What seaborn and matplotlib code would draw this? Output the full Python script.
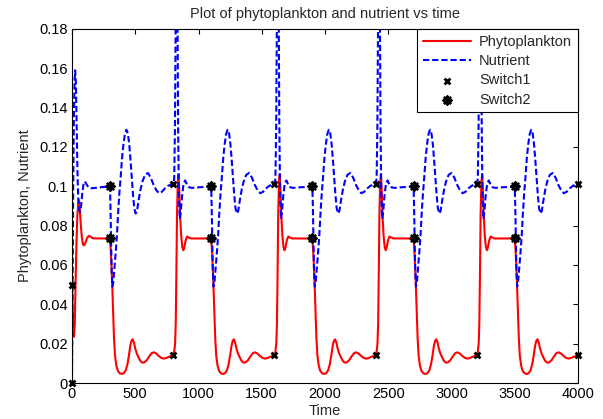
# phytoplankton / nutrient switching plot
import numpy as np
import pandas as pd
import matplotlib
matplotlib.use('Agg')
import matplotlib.pyplot as plt
import seaborn as sns

# first cycle, phase before switch2 (offsets from t=0)
t_first = [0, 4, 9, 16, 22, 28, 35, 42, 50, 56, 62, 70, 78, 86, 95, 105, 118, 132, 145, 165, 200, 250]
phyto_first = [0.050, 0.040, 0.028, 0.0235, 0.030, 0.050, 0.070, 0.085, 0.092, 0.093, 0.088, 0.080,
               0.074, 0.0705, 0.0700, 0.0712, 0.0735, 0.0748, 0.0745, 0.0736, 0.0735, 0.0735]
t_first_n = [0, 4, 9, 15, 20, 25, 31, 37, 44, 50, 57, 64, 72, 82, 92, 102, 115, 130, 150, 200, 250]
nutr_first = [0.0, 0.045, 0.095, 0.135, 0.153, 0.159, 0.152, 0.130, 0.105, 0.093, 0.088, 0.087,
              0.090, 0.097, 0.1015, 0.1025, 0.1010, 0.0995, 0.0990, 0.0993, 0.0997]

# later cycles, phase after switch1 (offsets from 800*k)
t_rise = [0, 8, 15, 20, 25, 30, 36, 42, 48, 55, 63, 72, 80, 88, 98, 110, 122, 140, 200, 250]
phyto_rise = [0.0142, 0.0160, 0.0200, 0.030, 0.055, 0.085, 0.102, 0.106, 0.098, 0.085, 0.075,
              0.069, 0.0675, 0.069, 0.0725, 0.0745, 0.0740, 0.0735, 0.0735, 0.0735]
t_rise_n = [0, 8, 14, 20, 27, 33, 39, 45, 52, 60, 70, 82, 95, 108, 125, 150, 200, 250]
nutr_rise = [0.101, 0.104, 0.130, 0.190, 0.240, 0.200, 0.130, 0.095, 0.0835, 0.087, 0.095,
             0.1015, 0.1030, 0.1010, 0.0995, 0.0992, 0.0995, 0.0997]

# phase after switch2 (offsets from 800*k, same every cycle)
t_fall = [300, 306, 312, 318, 325, 332, 340, 350, 362, 378, 395, 410, 425, 438, 450, 461, 471,
          480, 490, 500, 512, 525, 540, 555, 570, 590, 610, 630, 648, 665, 685, 705, 725, 745, 765, 785]
phyto_fall = [0.0735, 0.068, 0.060, 0.050, 0.036, 0.023, 0.014, 0.0090, 0.0062, 0.0049, 0.0046,
              0.0050, 0.0065, 0.0095, 0.0140, 0.0190, 0.0215, 0.0222, 0.0205, 0.0175, 0.0150,
              0.0132, 0.0113, 0.0104, 0.0104, 0.0115, 0.0135, 0.0152, 0.0156, 0.0150, 0.0138,
              0.0128, 0.0124, 0.0127, 0.0133, 0.0138]
t_fall_n = [300, 304, 308, 313, 319, 326, 335, 345, 355, 365, 375, 385, 395, 406, 418, 430, 442,
            453, 463, 472, 482, 492, 503, 514, 527, 542, 557, 577, 600, 622, 645, 667, 688, 710,
            735, 760, 780]
nutr_fall = [0.100, 0.090, 0.075, 0.058, 0.049, 0.051, 0.058, 0.066, 0.075, 0.087, 0.097, 0.105,
             0.114, 0.121, 0.1265, 0.1288, 0.1268, 0.121, 0.113, 0.105, 0.096, 0.089, 0.0862,
             0.0875, 0.093, 0.0985, 0.1025, 0.1058, 0.1068, 0.1045, 0.1007, 0.0980, 0.0965,
             0.0972, 0.0990, 0.1003, 0.1008]

# switch markers
switch1_t = [0, 800, 1600, 2400, 3200, 4000]
switch1_phyto = [0.050, 0.0142, 0.0142, 0.0142, 0.0142, 0.0142]
switch1_nutr = [0.0, 0.101, 0.101, 0.101, 0.101, 0.101]
switch2_t = [300, 1100, 1900, 2700, 3500]
switch2_phyto = [0.0735, 0.0735, 0.0735, 0.0735, 0.0735]
switch2_nutr = [0.100, 0.100, 0.100, 0.100, 0.100]

tp, pp, tn, nn = [], [], [], []
for k in range(5):
    s = 800 * k
    if k == 0:
        tp += [s + t for t in t_first]; pp += phyto_first
        tn += [s + t for t in t_first_n]; nn += nutr_first
    else:
        tp += [s + t for t in t_rise]; pp += phyto_rise
        tn += [s + t for t in t_rise_n]; nn += nutr_rise
    tp += [s + t for t in t_fall]; pp += phyto_fall
    tn += [s + t for t in t_fall_n]; nn += nutr_fall
tp.append(4000); pp.append(phyto_rise[0])
tn.append(4000); nn.append(nutr_rise[0])

df_p = pd.DataFrame({'Time': tp, 'val': pp})
df_n = pd.DataFrame({'Time': tn, 'val': nn})
df_s1 = pd.DataFrame({'Time': switch1_t + switch1_t, 'val': switch1_phyto + switch1_nutr})
df_s2 = pd.DataFrame({'Time': switch2_t + switch2_t, 'val': switch2_phyto + switch2_nutr})

sns.set_style('white')
plt.rcParams['font.family'] = ['Liberation Sans', 'DejaVu Sans']
fs = 10.5
plt.rcParams['font.size'] = fs

fig = plt.figure(figsize=(6.03, 4.19), dpi=100)
ax = fig.add_axes([72 / 603, 1 - 383 / 419, 506 / 603, 354 / 419])

sns.lineplot(data=df_p, x='Time', y='val', color='red', lw=1.5, estimator=None, sort=False,
             ax=ax, label='Phytoplankton')
sns.lineplot(data=df_n, x='Time', y='val', color='blue', lw=1.5, linestyle=(0, (3, 1.4)),
             estimator=None, sort=False, ax=ax, label='Nutrient')
sns.scatterplot(data=df_s1, x='Time', y='val', color='black', marker='x', s=18, linewidth=2,
                ax=ax, label='Switch1', zorder=5, clip_on=False)
sns.scatterplot(data=df_s2, x='Time', y='val', color='black', marker=(8, 2, 0), s=30,
                linewidth=1.9, ax=ax, label='Switch2', zorder=5, clip_on=False)

ax.set_xlim(0, 4000)
ax.set_ylim(0, 0.18)
ax.set_xticks(np.arange(0, 4001, 500))
ax.set_yticks(np.arange(0, 0.181, 0.02))
ax.set_yticklabels(['%g' % round(v, 2) for v in np.arange(0, 0.181, 0.02)])
ax.tick_params(direction='in', top=True, right=True, length=3.5, width=0.8, labelsize=fs,
               colors='black', pad=3)
for sp in ax.spines.values():
    sp.set_color('black')
    sp.set_linewidth(0.8)

ax.set_xlabel('Time', fontsize=fs, labelpad=2)
ax.set_ylabel('Phytoplankton, Nutrient', fontsize=fs, labelpad=5)
ax.set_title('Plot of phytoplankton and nutrient vs time', fontsize=fs, pad=8)

leg = ax.legend(loc='upper right', borderaxespad=0, fancybox=False, edgecolor='black',
                framealpha=1, handlelength=3.3, labelspacing=0.36, borderpad=0.4,
                handletextpad=0.55, fontsize=fs)
leg.get_frame().set_linewidth(0.8)

fig.savefig('out.png', dpi=100)
